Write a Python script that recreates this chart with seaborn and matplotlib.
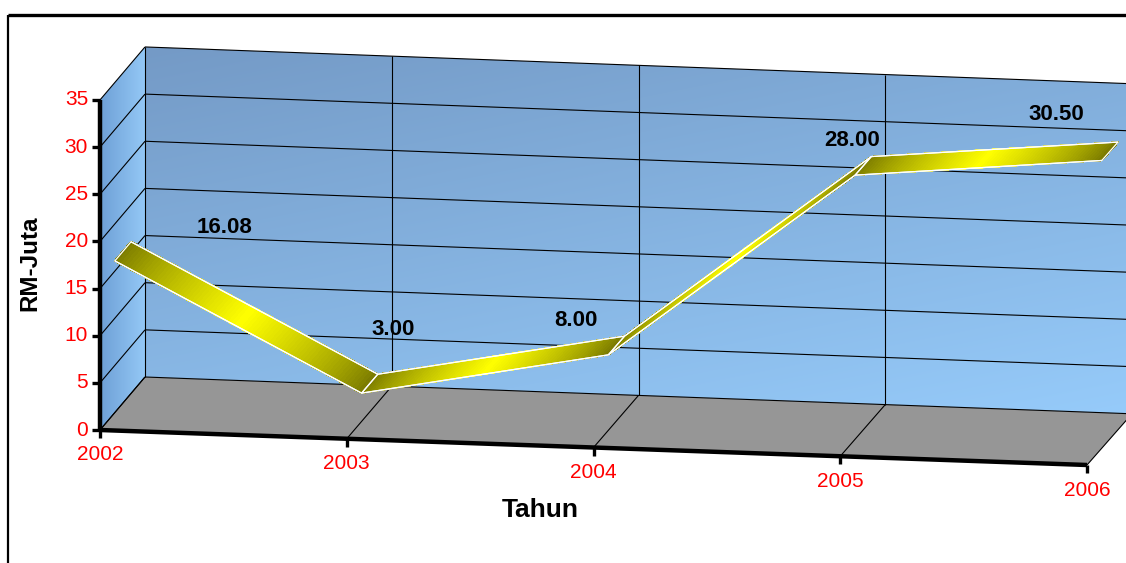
import numpy as np
import matplotlib
matplotlib.use("Agg")
import matplotlib.pyplot as plt
from matplotlib.transforms import Affine2D
from matplotlib.patches import Polygon
from matplotlib.collections import PolyCollection
import seaborn as sns

# ---- data -------------------------------------------------------------
years = ["2002", "2003", "2004", "2005", "2006"]
revenue = [16.08, 3.00, 8.00, 28.00, 30.50]
value_ticks = [0, 5, 10, 15, 20, 25, 30, 35]
y_title = "RM-Juta"
x_title = "Tahun"

# ---- style ------------------------------------------------------------
sns.set_style("white")
plt.rcParams["font.family"] = ["Liberation Sans", "DejaVu Sans"]
plt.rcParams["text.color"] = "black"

W, H = 1126, 563
fig = plt.figure(figsize=(W / 100, H / 100), dpi=100)
ax = fig.add_axes([0, 0, 1, 1])
ax.axis("off")

# oblique box projection: category index i, value v, depth t (0 = front, 1 = back)
ORIGIN = (100.0, 430.0)
CAT_STEP = 246.75
VAL_STEP = 9.43
DEPTH = (45.0, -53.0)
V_MAX = value_ticks[-1]
N_CAT = len(years)
LAST = N_CAT - 1


def plane_affine(t):
    slope = 8.75 + 0.45 * t
    ox = ORIGIN[0] + DEPTH[0] * t
    oy = ORIGIN[1] + DEPTH[1] * t
    return Affine2D(np.array([[CAT_STEP, 0.0, ox],
                              [slope, -VAL_STEP, oy],
                              [0.0, 0.0, 1.0]]))


def plane(t):
    return plane_affine(t) + ax.transData


def pt(i, v, t):
    return plane_affine(t).transform([[i, v]])[0]


def gradient_fill(verts, c0, c1, wx, wy, zorder):
    verts = np.asarray(verts)
    poly = Polygon(verts, closed=True, facecolor="none", edgecolor="none",
                   transform=ax.transData)
    ax.add_patch(poly)
    x0, x1 = verts[:, 0].min(), verts[:, 0].max()
    y0, y1 = verts[:, 1].min(), verts[:, 1].max()
    gx, gy = np.meshgrid(np.linspace(0, 1, 256), np.linspace(0, 1, 256))
    f = np.clip(wx * gx + wy * gy, 0, 1)[..., None]
    img = np.array(c0) / 255 + (np.array(c1) - np.array(c0)) / 255 * f
    im = ax.imshow(img, extent=(x0, x1, y1, y0), origin="upper", aspect="auto",
                   interpolation="bilinear", zorder=zorder)
    im.set_clip_path(poly)


# ---- walls and floor --------------------------------------------------
back = [pt(0, 0, 1), pt(LAST, 0, 1), pt(LAST, V_MAX, 1), pt(0, V_MAX, 1)]
gradient_fill(back, (116, 154, 198), (150, 203, 250), 0.35, 0.65, 1)

side = [pt(0, 0, 0), pt(0, 0, 1), pt(0, V_MAX, 1), pt(0, V_MAX, 0)]
gradient_fill(side, (110, 160, 214), (148, 200, 246), 1.0, 0.0, 1)

floor = [pt(0, 0, 0), pt(LAST, 0, 0), pt(LAST, 0, 1), pt(0, 0, 1)]
ax.add_patch(Polygon(floor, closed=True, facecolor="#969696", edgecolor="none", zorder=1))

# ---- gridlines --------------------------------------------------------
grid_kw = dict(color="black", lw=0.8, zorder=2, solid_capstyle="butt")
for v in value_ticks:
    ax.plot([0, LAST], [v, v], transform=plane(1), **grid_kw)
    a, b = pt(0, v, 0), pt(0, v, 1)
    ax.plot([a[0], b[0]], [a[1], b[1]], **grid_kw)
for i in range(N_CAT - 1):
    ax.plot([i, i], [0, V_MAX], transform=plane(1), **grid_kw)
for i in range(N_CAT):
    a, b = pt(i, 0, 0), pt(i, 0, 1)
    ax.plot([a[0], b[0]], [a[1], b[1]], **grid_kw)

# ---- 3-D ribbon line ----------------------------------------------------
T0, T1 = 0.33, 0.69
dark = np.array([0.47, 0.47, 0.0])
bright = np.array([1.0, 1.0, 0.0])
n_slices = 80
idx = np.arange(N_CAT)
for k in range(N_CAT - 1):
    s = np.linspace(0, 1, n_slices + 1)
    ii = k + s
    vv = revenue[k] + s * (revenue[k + 1] - revenue[k])
    front = plane_affine(T0).transform(np.column_stack([ii, vv]))
    rear = plane_affine(T1).transform(np.column_stack([ii, vv]))
    quads, cols = [], []
    for j in range(n_slices):
        quads.append([front[j], front[j + 1], rear[j + 1], rear[j]])
        m = 0.5 * (s[j] + s[j + 1])
        w = (1 - abs(2 * m - 1)) ** 0.8
        cols.append(dark + (bright - dark) * w)
    pc = PolyCollection(quads, facecolors=cols, edgecolors=cols, linewidths=0.6,
                        antialiased=False, zorder=3 + 0.01 * k)
    ax.add_collection(pc)
    outline = [front[0], front[-1], rear[-1], rear[0]]
    ax.add_patch(Polygon(outline, closed=True, facecolor="none", edgecolor="white",
                         lw=0.9, zorder=3.5 + 0.01 * k))

# ribbon long edges
sns.lineplot(x=idx, y=revenue, ax=ax, color="white", lw=0.9, transform=plane(T0),
             zorder=3.6, sort=False)
sns.lineplot(x=idx, y=revenue, ax=ax, color="white", lw=0.9, transform=plane(T1),
             zorder=3.6, sort=False)

# ---- front axes ---------------------------------------------------------
ax.plot([0, 0], [0, V_MAX], transform=plane(0), color="black", lw=3.2,
        solid_capstyle="butt", zorder=4)
ax.plot([0, LAST], [0, 0], transform=plane(0), color="black", lw=3.2,
        solid_capstyle="butt", zorder=4)
ax.plot(np.zeros(len(value_ticks)), value_ticks, transform=plane(0), ls="none",
        marker=0, ms=6, mew=2.4, color="black", zorder=4)
ax.plot(idx, np.zeros(N_CAT), transform=plane(0), ls="none",
        marker=3, ms=6, mew=2.4, color="black", zorder=4)

for v in value_ticks:
    ax.annotate(str(v), xy=(0, v), xycoords=plane(0), xytext=(-12, 0),
                textcoords="offset pixels", ha="right", va="center",
                color="#ff0000", fontsize=15, zorder=5)
for i, yr in enumerate(years):
    ax.annotate(yr, xy=(i, 0), xycoords=plane(0), xytext=(0, -25),
                textcoords="offset pixels", ha="center", va="center",
                color="#ff0000", fontsize=15, zorder=5)

# value labels
label_offsets = [(124, 51), (46, 81), (-18, 52), (12, 52), (-31, 63)]
for i, (v, off) in enumerate(zip(revenue, label_offsets)):
    ax.annotate(f"{v:.2f}", xy=(i, v), xycoords=plane(0), xytext=off,
                textcoords="offset pixels", ha="center", va="center",
                fontsize=16, fontweight="bold", color="black", zorder=5)

fig.text(30 / W, 1 - 263 / H, y_title, rotation=90, ha="center", va="center",
         fontsize=17.5, fontweight="bold", color="black")
fig.text(540 / W, 1 - 510 / H, x_title, ha="center", va="center",
         fontsize=19, fontweight="bold", color="black")

# ---- outer frame --------------------------------------------------------
ax.plot([8, W], [15, 15], color="black", lw=2.4, solid_capstyle="butt", zorder=6)
ax.plot([8, 8], [15, H], color="black", lw=1.6, solid_capstyle="butt", zorder=6)

ax.set_xlim(0, W)
ax.set_ylim(H, 0)
ax.set_xlabel("")
ax.set_ylabel("")
if ax.get_legend() is not None:
    ax.get_legend().remove()

fig.savefig("out.png", dpi=100)
